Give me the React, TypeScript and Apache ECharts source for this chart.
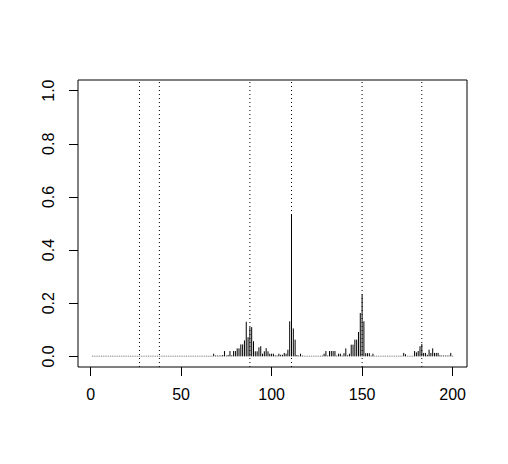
import React, { useEffect, useRef } from "react";
import * as echarts from "echarts";

// values for index 1..200
const values: number[] = [
  0.002, 0.002, 0.002, 0.002, 0.002, 0.002, 0.002, 0.002, 0.002, 0.002,
  0.002, 0.002, 0.002, 0.002, 0.002, 0.002, 0.002, 0.002, 0.002, 0.002,
  0.002, 0.002, 0.002, 0.002, 0.002, 0.002, 0.002, 0.002, 0.002, 0.002,
  0.002, 0.002, 0.002, 0.002, 0.002, 0.002, 0.002, 0.002, 0.002, 0.002,
  0.002, 0.002, 0.002, 0.002, 0.002, 0.002, 0.002, 0.002, 0.002, 0.002,
  0.002, 0.002, 0.002, 0.002, 0.002, 0.002, 0.002, 0.002, 0.002, 0.002,
  0.002, 0.002, 0.002, 0.002, 0.002, 0.002, 0.002, 0.01, 0.003, 0.003,
  0.003, 0.003, 0.005, 0.02, 0.003, 0.005, 0.02, 0.004, 0.02, 0.02,
  0.03, 0.03, 0.045, 0.045, 0.06, 0.13, 0.072, 0.11, 0.11, 0.057,
  0.019, 0.019, 0.034, 0.038, 0.01, 0.019, 0.031, 0.019, 0.01, 0.01,
  0.01, 0.004, 0.003, 0.01, 0.006, 0.006, 0.013, 0.01, 0.025, 0.132,
  0.535, 0.105, 0.063, 0.005, 0.003, 0.01, 0.003, 0.002, 0.002, 0.002,
  0.002, 0.002, 0.002, 0.002, 0.002, 0.002, 0.002, 0.003, 0.01, 0.02,
  0.003, 0.02, 0.02, 0.02, 0.02, 0.003, 0.01, 0.01, 0.003, 0.012,
  0.03, 0.004, 0.01, 0.044, 0.044, 0.063, 0.063, 0.092, 0.163, 0.233,
  0.132, 0.012, 0.012, 0.012, 0.003, 0.01, 0.002, 0.002, 0.002, 0.002,
  0.002, 0.002, 0.002, 0.002, 0.002, 0.002, 0.002, 0.002, 0.002, 0.002,
  0.002, 0.002, 0.013, 0.008, 0.002, 0.002, 0.002, 0.002, 0.02, 0.015,
  0.02, 0.038, 0.047, 0.013, 0.013, 0.006, 0.025, 0.013, 0.03, 0.013,
  0.013, 0.013, 0.004, 0.003, 0.003, 0.003, 0.003, 0.003, 0.013, 0.002,
];
const vlines: number[] = [27, 38, 88, 111, 150, 183];
const xTicks: number[] = [0, 50, 100, 150, 200];
const yTicks: number[] = [0, 0.2, 0.4, 0.6, 0.8, 1.0];

export default function App() {
  const ref = useRef<HTMLDivElement>(null);
  useEffect(() => {
    if (!ref.current) return;
    const chart = echarts.init(ref.current, null, { renderer: "svg" });
    const font = "Liberation Sans, Arial, Helvetica, sans-serif";
    const data = values.map((v, i) => [i + 1, v]);
    chart.setOption({
      animation: false,
      backgroundColor: "#fff",
      grid: {
        left: 78,
        top: 80,
        width: 389,
        height: 287,
        show: true,
        borderColor: "#000",
        borderWidth: 1,
        backgroundColor: "transparent",
      },
      xAxis: {
        type: "value",
        min: -6.96,
        max: 207.96,
        splitLine: { show: false },
        axisLine: { show: false, onZero: false },
        axisTick: {
          show: true,
          length: 9,
          customValues: xTicks,
          lineStyle: { color: "#000", width: 1 },
        },
        axisLabel: {
          customValues: xTicks,
          fontSize: 16,
          color: "#000",
          fontFamily: font,
          margin: 19,
        },
      },
      yAxis: {
        type: "value",
        min: -0.04,
        max: 1.04,
        splitLine: { show: false },
        axisLine: { show: false, onZero: false },
        axisTick: {
          show: true,
          length: 9,
          customValues: yTicks,
          lineStyle: { color: "#000", width: 1 },
        },
        axisLabel: {
          customValues: yTicks,
          rotate: 90,
          fontSize: 16,
          color: "#000",
          fontFamily: font,
          margin: 22,
          formatter: (v: number) => v.toFixed(1),
        },
      },
      series: [
        {
          type: "custom",
          data: vlines.map((v) => [v]),
          encode: { x: 0 },
          renderItem: (params: any, api: any) => {
            const x = api.value(0);
            const p0 = api.coord([x, -0.04]);
            const p1 = api.coord([x, 1.04]);
            return {
              type: "line",
              shape: { x1: p0[0], y1: p0[1], x2: p1[0], y2: p1[1] },
              style: { stroke: "#000", lineWidth: 1, lineDash: [1, 3] },
            };
          },
        },
        {
          type: "custom",
          data: data,
          encode: { x: 0, y: 1 },
          renderItem: (params: any, api: any) => {
            const x = api.value(0);
            const y = api.value(1);
            const p0 = api.coord([x, 0]);
            const p1 = api.coord([x, y]);
            return {
              type: "line",
              shape: { x1: p0[0], y1: p0[1], x2: p1[0], y2: p1[1] },
              style: { stroke: "#000", lineWidth: 1 },
            };
          },
        },
      ],
    });
    return () => chart.dispose();
  }, []);
  return (
    <div
      ref={ref}
      style={{ position: "fixed", left: 0, top: 0, width: 508, height: 464 }}
    />
  );
}
